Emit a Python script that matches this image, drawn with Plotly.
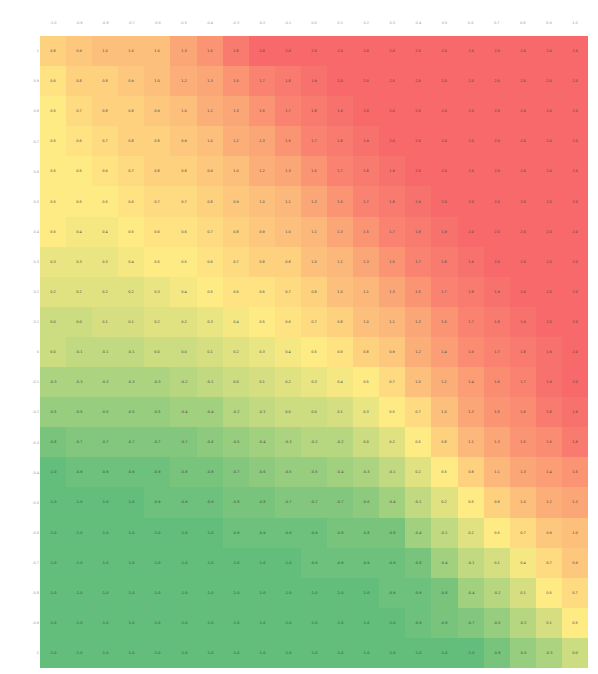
import plotly.graph_objects as go

x_labels = ["-1.0", "-0.9", "-0.8", "-0.7", "-0.6", "-0.5", "-0.4", "-0.3", "-0.2", "-0.1",
            "0.0", "0.1", "0.2", "0.3", "0.4", "0.5", "0.6", "0.7", "0.8", "0.9", "1.0"]
y_labels = ["1", "0.9", "0.8", "0.7", "0.6", "0.5", "0.4", "0.3", "0.2", "0.1", "0",
            "-0.1", "-0.2", "-0.3", "-0.4", "-0.5", "-0.6", "-0.7", "-0.8", "-0.9", "-1"]

row_p10 = [0.8, 0.9, 1.0, 1.0, 1.0, 1.3, 1.5, 1.8, 2.0, 2.0, 2.0, 2.0, 2.0, 2.0, 2.0, 2.0, 2.0, 2.0, 2.0, 2.0, 2.0]
row_p09 = [0.6, 0.8, 0.8, 0.9, 1.0, 1.2, 1.3, 1.5, 1.7, 1.8, 1.9, 2.0, 2.0, 2.0, 2.0, 2.0, 2.0, 2.0, 2.0, 2.0, 2.0]
row_p08 = [0.5, 0.7, 0.8, 0.8, 0.9, 1.0, 1.2, 1.3, 1.5, 1.7, 1.8, 1.9, 2.0, 2.0, 2.0, 2.0, 2.0, 2.0, 2.0, 2.0, 2.0]
row_p07 = [0.5, 0.6, 0.7, 0.8, 0.8, 0.9, 1.0, 1.2, 1.3, 1.5, 1.7, 1.8, 1.9, 2.0, 2.0, 2.0, 2.0, 2.0, 2.0, 2.0, 2.0]
row_p06 = [0.5, 0.5, 0.6, 0.7, 0.8, 0.8, 0.9, 1.0, 1.2, 1.3, 1.5, 1.7, 1.8, 1.9, 2.0, 2.0, 2.0, 2.0, 2.0, 2.0, 2.0]
row_p05 = [0.5, 0.5, 0.5, 0.6, 0.7, 0.7, 0.8, 0.9, 1.0, 1.1, 1.3, 1.5, 1.7, 1.8, 1.9, 2.0, 2.0, 2.0, 2.0, 2.0, 2.0]
row_p04 = [0.5, 0.4, 0.4, 0.5, 0.6, 0.6, 0.7, 0.8, 0.9, 1.0, 1.1, 1.3, 1.5, 1.7, 1.8, 1.9, 2.0, 2.0, 2.0, 2.0, 2.0]
row_p03 = [0.3, 0.3, 0.3, 0.4, 0.5, 0.5, 0.6, 0.7, 0.8, 0.8, 1.0, 1.1, 1.3, 1.5, 1.7, 1.8, 1.9, 2.0, 2.0, 2.0, 2.0]
row_p02 = [0.2, 0.2, 0.2, 0.2, 0.3, 0.4, 0.5, 0.6, 0.6, 0.7, 0.8, 1.0, 1.1, 1.3, 1.5, 1.7, 1.8, 1.9, 2.0, 2.0, 2.0]
row_p01 = [0.0, 0.0, 0.1, 0.1, 0.2, 0.2, 0.3, 0.4, 0.5, 0.6, 0.7, 0.8, 1.0, 1.1, 1.3, 1.5, 1.7, 1.8, 1.9, 2.0, 2.0]
row_z00 = [0.0, -0.1, -0.1, -0.1, 0.0, 0.0, 0.1, 0.2, 0.3, 0.4, 0.5, 0.6, 0.8, 0.9, 1.2, 1.4, 1.6, 1.7, 1.8, 1.9, 2.0]
row_m01 = [-0.3, -0.3, -0.3, -0.3, -0.3, -0.2, -0.1, 0.0, 0.1, 0.2, 0.3, 0.4, 0.5, 0.7, 1.0, 1.2, 1.4, 1.6, 1.7, 1.9, 2.0]
row_m02 = [-0.5, -0.5, -0.5, -0.5, -0.5, -0.4, -0.4, -0.2, -0.1, 0.0, 0.0, 0.1, 0.3, 0.5, 0.7, 1.0, 1.3, 1.5, 1.6, 1.8, 1.9]
row_m03 = [-0.8, -0.7, -0.7, -0.7, -0.7, -0.7, -0.6, -0.5, -0.4, -0.3, -0.2, -0.2, 0.0, 0.2, 0.5, 0.8, 1.1, 1.3, 1.5, 1.6, 1.8]
row_m04 = [-1.0, -0.9, -0.9, -0.9, -0.9, -0.8, -0.8, -0.7, -0.6, -0.5, -0.5, -0.4, -0.3, -0.1, 0.2, 0.5, 0.8, 1.1, 1.3, 1.4, 1.5]
row_m05 = [-1.0, -1.0, -1.0, -1.0, -0.9, -0.9, -0.9, -0.8, -0.8, -0.7, -0.7, -0.7, -0.6, -0.4, -0.1, 0.2, 0.5, 0.8, 1.0, 1.2, 1.3]
row_m06 = [-1.0, -1.0, -1.0, -1.0, -1.0, -1.0, -1.0, -0.9, -0.9, -0.9, -0.9, -0.8, -0.8, -0.8, -0.4, -0.1, 0.2, 0.5, 0.7, 0.9, 1.0]
row_m07 = [-1.0, -1.0, -1.0, -1.0, -1.0, -1.0, -1.0, -1.0, -1.0, -1.0, -0.9, -0.9, -0.9, -0.9, -0.8, -0.4, -0.1, 0.1, 0.4, 0.7, 0.9]
row_m08 = [-1.0, -1.0, -1.0, -1.0, -1.0, -1.0, -1.0, -1.0, -1.0, -1.0, -1.0, -1.0, -1.0, -0.9, -0.9, -0.8, -0.4, -0.2, 0.1, 0.5, 0.7]
row_m09 = [-1.0, -1.0, -1.0, -1.0, -1.0, -1.0, -1.0, -1.0, -1.0, -1.0, -1.0, -1.0, -1.0, -1.0, -0.9, -0.8, -0.7, -0.5, -0.2, 0.1, 0.5]
row_m10 = [-1.0, -1.0, -1.0, -1.0, -1.0, -1.0, -1.0, -1.0, -1.0, -1.0, -1.0, -1.0, -1.0, -1.0, -1.0, -1.0, -1.0, -0.8, -0.5, -0.3, 0.0]

z = [row_p10, row_p09, row_p08, row_p07, row_p06, row_p05, row_p04, row_p03, row_p02, row_p01,
     row_z00, row_m01, row_m02, row_m03, row_m04, row_m05, row_m06, row_m07, row_m08, row_m09, row_m10]

fig = go.Figure(go.Heatmap(
    z=z, x=x_labels, y=y_labels,
    zmin=-1, zmax=2,
    colorscale=[[0, "#63BE7B"], [0.5, "#FFEB84"], [1, "#F8696B"]],
    showscale=False,
    texttemplate="%{z:.1f}",
    textfont=dict(size=3.5, color="#444444", family="DejaVu Sans"),
    xgap=0, ygap=0,
))

# the page body adds an 8px offset, so margins are shifted to land the plot at 40..588 x 36..668
fig.update_layout(
    width=598, height=674,
    margin=dict(l=32, r=18, t=28, b=14, autoexpand=False),
    paper_bgcolor="white", plot_bgcolor="white",
    font=dict(family="DejaVu Sans", size=3.5, color="#999999"),
)
fig.update_xaxes(side="top", type="category", showgrid=False, zeroline=False, automargin=False,
                 ticks="outside", ticklen=10, tickcolor="rgba(0,0,0,0)",
                 tickfont=dict(size=3.5, color="#999999"))
fig.update_yaxes(type="category", autorange="reversed", showgrid=False, zeroline=False, automargin=False,
                 ticks="", tickfont=dict(size=3.5, color="#999999"))

fig.write_html("out.html")
